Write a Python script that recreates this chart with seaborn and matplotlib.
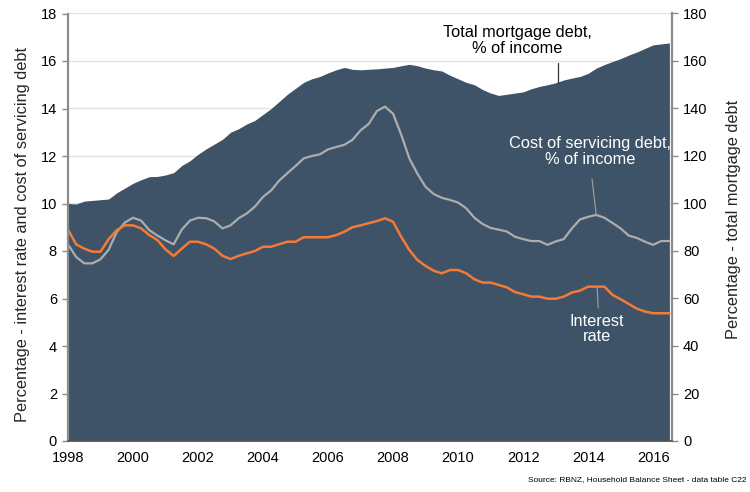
import numpy as np
import pandas as pd
import matplotlib
matplotlib.use("Agg")
import matplotlib.pyplot as plt
import seaborn as sns

# ---- data (quarterly, 1998Q1 .. 2016Q3) ----
start_year = 1998.0
debt_pct_income = [
    100, 99.8, 101, 101.3, 101.6, 101.9, 104.5, 106.5, 108.5, 110,
    111.3, 111.4, 112, 113, 116, 118, 120.7, 123, 125, 127,
    130, 131.5, 133.5, 135, 137.5, 140, 143, 146, 148.5, 151,
    152.5, 153.5, 155, 156.3, 157.3, 156.5, 156.3, 156.5, 156.7, 157,
    157.3, 158, 158.6, 158, 157, 156.3, 155.8, 154, 152.5, 151,
    150, 148, 146.5, 145.5, 146, 146.5, 147, 148.3, 149.3, 150,
    150.8, 152, 152.8, 153.5, 154.8, 157, 158.5, 159.8, 161, 162.5,
    163.8, 165.3, 166.8, 167.2, 167.6,
]
servicing_cost = [
    8.28, 7.75, 7.48, 7.48, 7.65, 8.05, 8.8, 9.2, 9.4, 9.28,
    8.88, 8.65, 8.45, 8.28, 8.9, 9.28, 9.4, 9.38, 9.25, 8.95,
    9.08, 9.38, 9.58, 9.87, 10.28, 10.55, 10.97, 11.28, 11.58, 11.9,
    12.0, 12.07, 12.28, 12.38, 12.47, 12.68, 13.08, 13.35, 13.89, 14.08,
    13.78, 12.9, 11.9, 11.25, 10.7, 10.4, 10.24, 10.15, 10.04, 9.8,
    9.4, 9.14, 8.97, 8.9, 8.82, 8.6, 8.5, 8.42, 8.42, 8.26,
    8.4, 8.5, 8.95, 9.33, 9.44, 9.52, 9.4, 9.18, 8.95, 8.65,
    8.55, 8.39, 8.26, 8.42, 8.42,
]
interest_rate = [
    8.9, 8.28, 8.1, 7.97, 7.97, 8.5, 8.88, 9.08, 9.08, 8.95,
    8.67, 8.46, 8.07, 7.79, 8.1, 8.39, 8.39, 8.28, 8.1, 7.8,
    7.66, 7.8, 7.9, 8.0, 8.18, 8.18, 8.29, 8.39, 8.39, 8.58,
    8.58, 8.58, 8.58, 8.67, 8.81, 9.0, 9.08, 9.17, 9.26, 9.38,
    9.23, 8.6, 8.04, 7.62, 7.37, 7.17, 7.06, 7.2, 7.2, 7.06,
    6.81, 6.67, 6.67, 6.57, 6.47, 6.27, 6.18, 6.08, 6.08, 5.99,
    5.99, 6.08, 6.25, 6.33, 6.5, 6.5, 6.5, 6.15, 5.97, 5.77,
    5.57, 5.45, 5.38, 5.38, 5.38,
]
year_ticks = list(range(1998, 2017, 2))
left_ticks = list(range(0, 19, 2))
right_ticks = list(range(0, 181, 20))

years = start_year + 0.25 * np.arange(len(debt_pct_income))
df = pd.DataFrame({
    "year": years,
    "debt": debt_pct_income,
    "cost": servicing_cost,
    "rate": interest_rate,
})

# ---- style ----
sns.set_style("white")
plt.rcParams["font.family"] = ["Liberation Sans", "DejaVu Sans"]

AREA = "#3e5367"
GREY = "#adadad"
ORANGE = "#f47a36"
SPINE = "#8c8c8c"

fig = plt.figure(figsize=(7.5, 4.92), dpi=100)
ax = fig.add_axes([68 / 750, 1 - 441 / 492, (672 - 68) / 750, (441 - 13.5) / 492])
ax2 = ax.twinx()

# area on the right axis (drawn below), lines on the left axis (above)
ax.set_zorder(ax2.get_zorder() + 1)
ax.patch.set_visible(False)

ax2.fill_between(df["year"], 0, df["debt"], color=AREA, linewidth=0, zorder=2)
ax2.set_ylim(0, 180)
ax2.set_yticks(right_ticks)
ax2.set_axisbelow(True)
ax2.grid(axis="y", color="#e3e3e3", linewidth=1.0, zorder=0)
ax2.grid(axis="x", visible=False)

sns.lineplot(data=df, x="year", y="cost", ax=ax, color=GREY, linewidth=1.6)
sns.lineplot(data=df, x="year", y="rate", ax=ax, color=ORANGE, linewidth=1.8)

ax.set_xlim(1998, 2016.58)
ax.set_ylim(0, 18)
ax.set_yticks(left_ticks)
ax.set_xticks(year_ticks)
ax.grid(False)

ax.set_xlabel("")
ax.set_ylabel("Percentage - interest rate and cost of servicing debt", fontsize=11.8)
ax.yaxis.set_label_coords(-0.0625, 0.482)
ax2.set_ylabel("Percentage - total mortgage debt", fontsize=11.8)
ax2.yaxis.set_label_coords(1.089, 0.519)

for a in (ax, ax2):
    a.tick_params(axis="both", labelsize=10.5, colors="black", length=4, width=1.0,
                  direction="out")
    a.tick_params(axis="y", color=SPINE)
    a.spines["top"].set_visible(False)
ax.tick_params(axis="x", color="#555555", length=4, pad=3)
ax.tick_params(axis="y", left=True, right=False, pad=4)
ax2.tick_params(axis="y", right=True, left=False, pad=4)

ax.spines["left"].set_color(SPINE)
ax.spines["left"].set_linewidth(1.6)
ax.spines["right"].set_visible(False)
ax.spines["bottom"].set_color("#555555")
ax.spines["bottom"].set_linewidth(1.2)
ax2.spines["right"].set_color(SPINE)
ax2.spines["right"].set_linewidth(1.6)
ax2.spines["left"].set_visible(False)
ax2.spines["bottom"].set_visible(False)

# ---- annotations ----
ax.text(2011.82, 16.86, "Total mortgage debt,\n% of income", ha="center", va="center",
        fontsize=11.8, color="black", linespacing=1.05)
ax.plot([2013.08, 2013.08], [15.92, 15.07], color="#333333", linewidth=0.9)

ax.text(2014.06, 12.19, "Cost of servicing debt,\n% of income", ha="center", va="center",
        fontsize=11.8, color="white", linespacing=1.05)
ax.plot([2014.12, 2014.25], [11.03, 9.52], color="#999999", linewidth=0.9)

ax.text(2014.28, 4.72, "Interest\nrate", ha="center", va="center",
        fontsize=11.8, color="white", linespacing=1.05)
ax.plot([2014.28, 2014.31], [6.44, 5.6], color="#999999", linewidth=0.9)

fig.text(0.995, 0.018, "Source: RBNZ, Household Balance Sheet - data table C22",
         ha="right", va="bottom", fontsize=6, color="black")

fig.savefig("out.png", dpi=100)
